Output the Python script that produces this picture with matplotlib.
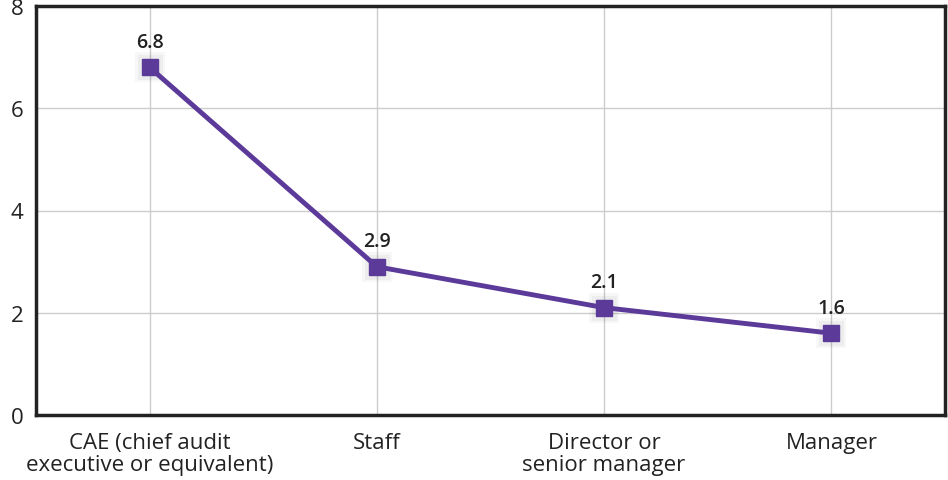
import matplotlib.pyplot as plt

# data
categories = ["CAE (chief audit\nexecutive or equivalent)", "Staff",
              "Director or\nsenior manager", "Manager"]
values = [6.8, 2.9, 2.1, 1.6]
yticks = [0, 2, 4, 6, 8]

plt.rcParams['font.family'] = ['Open Sans', 'DejaVu Sans']

fig = plt.figure(figsize=(9.48, 4.81), dpi=100)
ax = fig.add_axes([36 / 948, 65 / 481, 909 / 948, 409 / 481])

x = list(range(len(categories)))
purple = '#5b3a9a'

# soft shadow under markers
for ms, a in [(22, 0.03), (18, 0.04)]:
    ax.plot(x, values, linestyle='none', marker='s', markersize=ms,
            color='#000000', alpha=a, markeredgewidth=0, zorder=2)
ax.plot(x, values, color=purple, linewidth=3.5, marker='s', markersize=11,
        markerfacecolor=purple, markeredgecolor=purple, zorder=3)

for xi, v in zip(x, values):
    ax.annotate(f"{v}", (xi, v), xytext=(0, 11), textcoords='offset points',
                ha='center', va='bottom', fontsize=14, fontweight='semibold',
                color='#222222')

ax.set_xlim(-0.5, 3.5)
ax.set_ylim(0, 8)
ax.set_xticks(x)
ax.set_xticklabels(categories, fontsize=16, color='#222222', linespacing=1.1)
ax.set_yticks(yticks)
ax.set_yticklabels([str(t) for t in yticks], fontsize=16, color='#222222')
ax.tick_params(length=0)
ax.tick_params(axis='x', pad=12)
ax.tick_params(axis='y', pad=9)

ax.grid(True, color='#cccccc', linewidth=1)
ax.set_axisbelow(True)
for s in ax.spines.values():
    s.set_color('#222222')
    s.set_linewidth(2.5)

plt.savefig('out.png', dpi=100)
